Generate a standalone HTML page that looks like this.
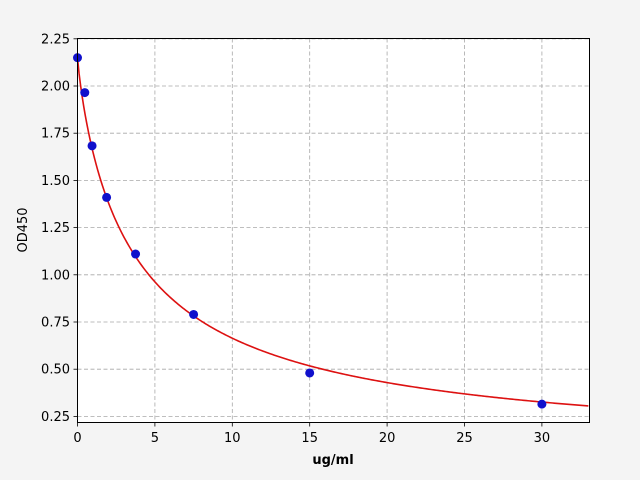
<!DOCTYPE html>
<html><head><meta charset="utf-8"><style>
body{margin:0;background:#f4f4f4;}
svg{display:block;font-family:"DejaVu Sans","Liberation Sans",sans-serif;}
</style></head><body>
<svg id="s" width="640" height="480" xmlns="http://www.w3.org/2000/svg">
<rect width="640" height="480" fill="#f4f4f4"/>
<rect x="77.5" y="38.5" width="512" height="384" fill="#fff"/>
<g id="grid" stroke="#a8a8a8" stroke-dasharray="4,2.5" stroke-width="0.8"></g>
<g id="ticks" stroke="#000" stroke-width="0.8"></g>
<g id="labels" font-size="13" fill="#000"></g>
<path id="curve" fill="none" stroke="#dd1111" stroke-width="1.6"/>
<g id="pts" fill="#1010cc"></g>
<rect x="77.5" y="38.5" width="512" height="384" fill="none" stroke="#000" stroke-width="1"/>
<text x="333" y="464" font-size="13" font-weight="bold" text-anchor="middle">ug/ml</text>
<text transform="translate(27,230) rotate(-90)" font-size="13" text-anchor="middle">OD450</text>
</svg>
<script>
var X=function(v){return 77.5+v*15.48;}, Y=function(v){return 86+(2-v)*188.8;};
var ns="http://www.w3.org/2000/svg";
function el(p,t,a,txt){var e=document.createElementNS(ns,t);for(var k in a)e.setAttribute(k,a[k]);if(txt)e.textContent=txt;document.getElementById(p).appendChild(e);}
for(var i=0;i<=30;i+=5){var x=X(i);el('grid','line',{x1:x,x2:x,y1:38.5,y2:422.5});el('ticks','line',{x1:x,x2:x,y1:422.5,y2:426.5});el('labels','text',{x:x,y:442,'text-anchor':'middle'},String(i));}
for(var j=0;j<9;j++){var v=0.25+j*0.25,y=Y(v);el('grid','line',{x1:77.5,x2:589.5,y1:y,y2:y});el('ticks','line',{x1:73.5,x2:77.5,y1:y,y2:y});el('labels','text',{x:70,y:y+4.5,'text-anchor':'end'},v.toFixed(2));}
var d="";for(var x=0;x<=33.07;x+=0.1){var yv=0.03+2.12/(1+Math.pow(x/3.8,0.88));d+=(x==0?"M":"L")+X(x).toFixed(2)+","+Y(yv).toFixed(2);}
document.getElementById('curve').setAttribute('d',d);
[[0,2.15],[0.47,1.965],[0.94,1.683],[1.88,1.41],[3.75,1.11],[7.5,0.79],[15,0.48],[30,0.315]].forEach(function(p){el('pts','circle',{cx:X(p[0]),cy:Y(p[1]),r:4.5});});
</script>
</body></html>
